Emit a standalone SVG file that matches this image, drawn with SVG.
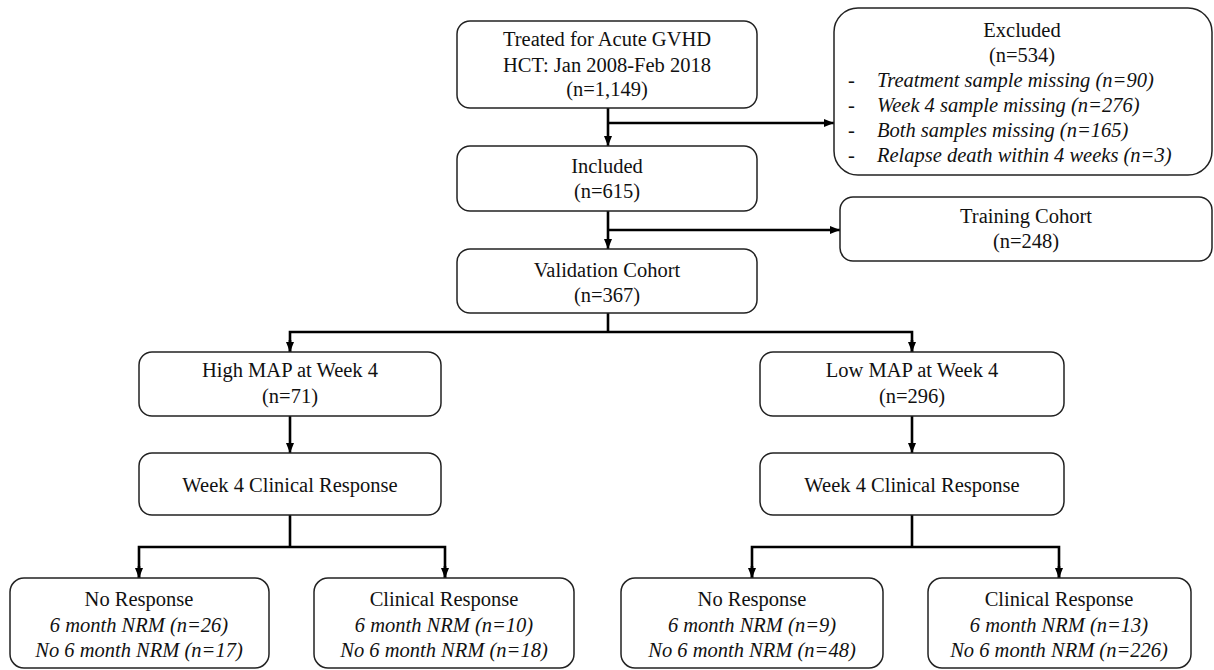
<svg xmlns="http://www.w3.org/2000/svg" width="1214" height="670" viewBox="0 0 1214 670" font-family="'Liberation Serif', 'Times New Roman', Times, serif">
<defs>
<style>
.box{fill:#fff;stroke:#222;stroke-width:1.5}
.t{font-family:'Liberation Serif','Times New Roman',Times,serif;font-size:20.5px;fill:#111;text-anchor:middle}
.i{font-style:italic}
.l{text-anchor:start}
.c{fill:none;stroke:#000;stroke-width:2.6}
</style>
<marker id="ah" markerUnits="userSpaceOnUse" markerWidth="10" markerHeight="10" viewBox="0 0 10 10" refX="10" refY="5" orient="auto">
<path d="M0,1 L10,5 L0,9 Z" fill="#000"/>
</marker>
</defs>
<rect width="1214" height="670" fill="#fff"/>
<g id="connectors">
<path class="c" d="M608,108 V146" marker-end="url(#ah)"/>
<path class="c" d="M608,123 H834" marker-end="url(#ah)"/>
<path class="c" d="M608,211 V249" marker-end="url(#ah)"/>
<path class="c" d="M608,230 H840" marker-end="url(#ah)"/>
<path class="c" d="M608,313 V332"/>
<path class="c" d="M290,352 V332 H912 V352"/>
<path class="c" d="M290,340 V352" marker-end="url(#ah)"/>
<path class="c" d="M912,340 V352" marker-end="url(#ah)"/>
<path class="c" d="M290,416 V453" marker-end="url(#ah)"/>
<path class="c" d="M912,416 V453" marker-end="url(#ah)"/>
<path class="c" d="M290,515 V547"/>
<path class="c" d="M139,578 V547 H445 V578"/>
<path class="c" d="M139,566 V578" marker-end="url(#ah)"/>
<path class="c" d="M445,566 V578" marker-end="url(#ah)"/>
<path class="c" d="M912,515 V547"/>
<path class="c" d="M752,578 V547 H1059 V578"/>
<path class="c" d="M752,566 V578" marker-end="url(#ah)"/>
<path class="c" d="M1059,566 V578" marker-end="url(#ah)"/>
</g>
<g id="treated">
<rect class="box" x="457" y="21" width="300" height="87" rx="13"/>
<text class="t" x="607" y="46">Treated for Acute GVHD</text>
<text class="t" x="607" y="72">HCT: Jan 2008-Feb 2018</text>
<text class="t" x="607" y="96">(n=1,149)</text>
</g>
<g id="excluded">
<rect class="box" x="834" y="8" width="378" height="167" rx="24"/>
<text class="t" x="1022" y="37">Excluded</text>
<text class="t" x="1022" y="62">(n=534)</text>
<text class="t l" x="848" y="87">-</text>
<text class="t l i" x="877" y="87">Treatment sample missing (n=90)</text>
<text class="t l" x="848" y="112">-</text>
<text class="t l i" x="877" y="112">Week 4 sample missing (n=276)</text>
<text class="t l" x="848" y="137">-</text>
<text class="t l i" x="877" y="137">Both samples missing (n=165)</text>
<text class="t l" x="848" y="162">-</text>
<text class="t l i" x="877" y="162">Relapse death within 4 weeks (n=3)</text>
</g>
<g id="included">
<rect class="box" x="457" y="146" width="300" height="65" rx="13"/>
<text class="t" x="607" y="173">Included</text>
<text class="t" x="607" y="198">(n=615)</text>
</g>
<g id="training">
<rect class="box" x="840" y="197" width="372" height="64" rx="13"/>
<text class="t" x="1026" y="223">Training Cohort</text>
<text class="t" x="1026" y="248">(n=248)</text>
</g>
<g id="validation">
<rect class="box" x="457" y="249" width="300" height="64" rx="13"/>
<text class="t" x="607" y="277">Validation Cohort</text>
<text class="t" x="607" y="302">(n=367)</text>
</g>
<g id="highmap">
<rect class="box" x="139" y="352" width="302" height="64" rx="13"/>
<text class="t" x="290" y="377">High MAP at Week 4</text>
<text class="t" x="290" y="403">(n=71)</text>
</g>
<g id="lowmap">
<rect class="box" x="760" y="352" width="304" height="64" rx="13"/>
<text class="t" x="912" y="377">Low MAP at Week 4</text>
<text class="t" x="912" y="403">(n=296)</text>
</g>
<g id="week4-left">
<rect class="box" x="139" y="453" width="302" height="62" rx="13"/>
<text class="t" x="290" y="492">Week 4 Clinical Response</text>
</g>
<g id="week4-right">
<rect class="box" x="760" y="453" width="304" height="62" rx="13"/>
<text class="t" x="912" y="492">Week 4 Clinical Response</text>
</g>
<g id="noresp-left">
<rect class="box" x="10" y="578" width="259" height="90" rx="14"/>
<text class="t" x="139" y="606">No Response</text>
<text class="t i" x="139" y="632">6 month NRM (n=26)</text>
<text class="t i" x="139" y="657">No 6 month NRM (n=17)</text>
</g>
<g id="clinresp-left">
<rect class="box" x="314" y="578" width="260" height="90" rx="14"/>
<text class="t" x="444" y="606">Clinical Response</text>
<text class="t i" x="444" y="632">6 month NRM (n=10)</text>
<text class="t i" x="444" y="657">No 6 month NRM (n=18)</text>
</g>
<g id="noresp-right">
<rect class="box" x="621" y="578" width="262" height="90" rx="14"/>
<text class="t" x="752" y="606">No Response</text>
<text class="t i" x="752" y="632">6 month NRM (n=9)</text>
<text class="t i" x="752" y="657">No 6 month NRM (n=48)</text>
</g>
<g id="clinresp-right">
<rect class="box" x="928" y="578" width="263" height="90" rx="14"/>
<text class="t" x="1059" y="606">Clinical Response</text>
<text class="t i" x="1059" y="632">6 month NRM (n=13)</text>
<text class="t i" x="1059" y="657">No 6 month NRM (n=226)</text>
</g>
</svg>
